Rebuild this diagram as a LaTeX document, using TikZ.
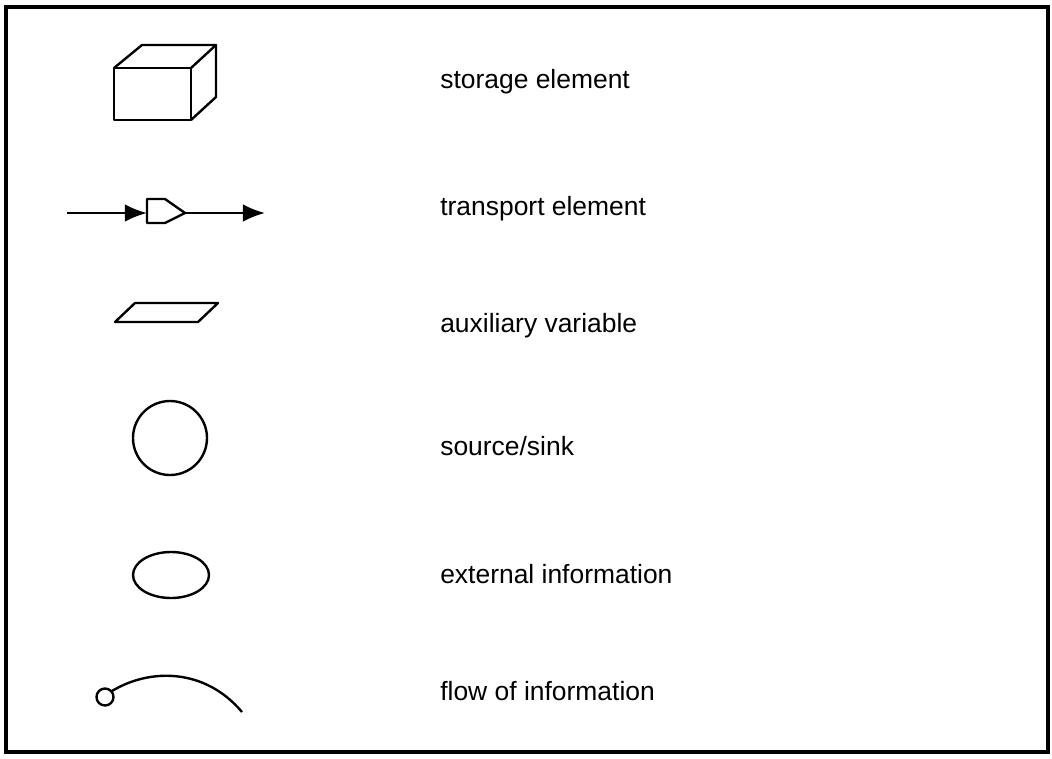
\documentclass[tikz,border=0pt]{standalone}
\usepackage{fontspec}
\setmainfont{Liberation Sans}
\usepackage{tikz}
\usetikzlibrary{arrows.meta,positioning}

\begin{document}
\begin{tikzpicture}[
  x=0.025cm, y=-0.025cm,
  symbol/.style={line width=1.7pt, line join=round},
  flowarrow/.style={-{Latex[length=5.5mm,width=4.4mm]}, line width=1.7pt},
  caption/.style={anchor=west, inner sep=0pt, font=\fontsize{18.8}{22}\selectfont}
]
\useasboundingbox (0,0) rectangle (1052,758);

% outer frame
\draw[line width=3.2pt] (6,7) rectangle (1048,752);

% storage element: a box seen from above
\draw[symbol] (114,68) rectangle (191,120);
\draw[symbol] (114,68) -- (142,45) -- (216,45) -- (191,68);
\draw[symbol] (216,45) -- (216,97) -- (191,120);

% transport element: valve between two flows
\coordinate (inflow) at (67,213);
\coordinate (outflow) at (265,213);
\draw[symbol] (147,199) -- (165,199) -- (185,213) -- (165,223) -- (147,223) -- cycle;
\coordinate (valvein) at (147,213);
\coordinate (valveout) at (185,213);
\draw[flowarrow] (inflow) -- (valvein);
\draw[flowarrow] (valveout) -- (outflow);

% auxiliary variable
\draw[symbol] (135,303) -- (218,303) -- (198,322) -- (115,322) -- cycle;

% source/sink
\draw[symbol] (170,438) circle [radius=37];

% external information
\draw[symbol] (171,575) ellipse [x radius=38, y radius=23];

% flow of information
\draw[symbol] (105,697) circle [radius=8.5];
\draw[symbol] (112,691) .. controls (150,668) and (205,668) .. (242,712);

% captions
\node[caption] (storage) at (440,82) {storage element};
\node[caption] (transport) at (440,209) {transport element};
\node[caption] (auxiliary) at (440,326) {auxiliary variable};
\node[caption] (source) at (440,446) {source/sink};
\node[caption] (external) at (440,574) {external information};
\node[caption] (information) at (440,691) {flow of information};

\end{tikzpicture}
\end{document}
